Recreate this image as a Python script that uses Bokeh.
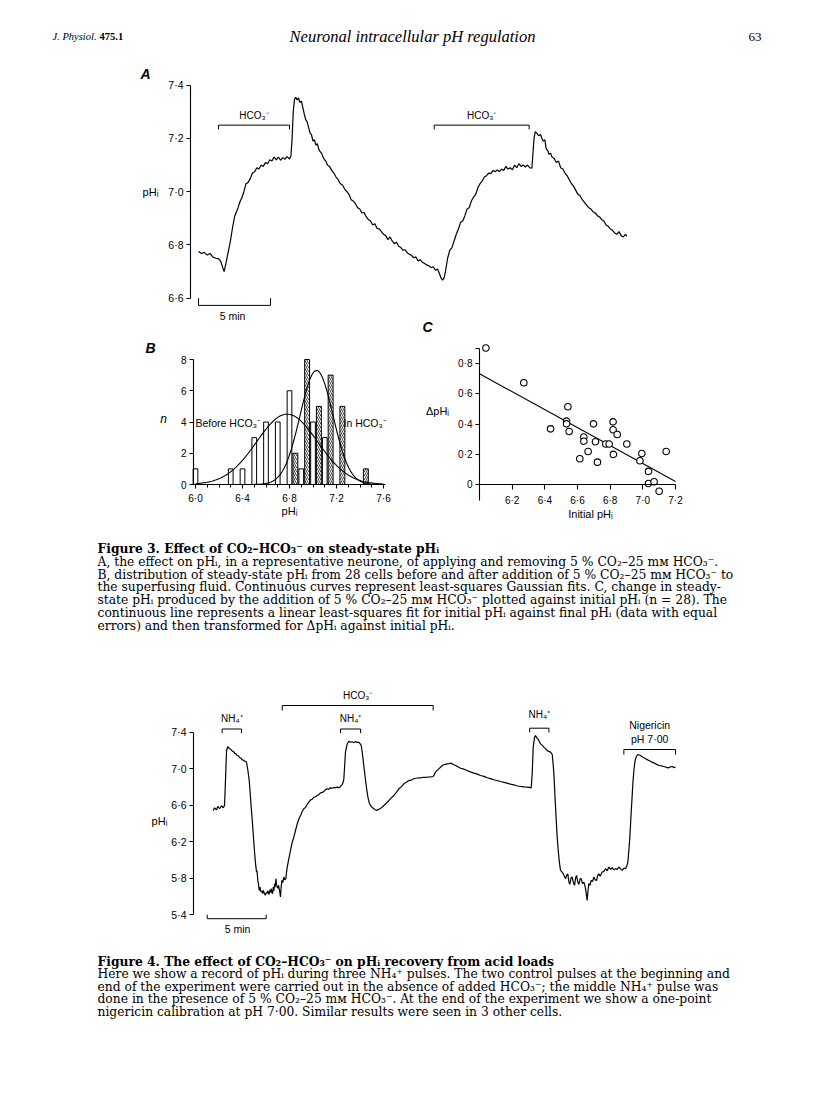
import numpy as np
from bokeh.plotting import figure
from bokeh.models import Label, LinearAxis, FixedTicker, Range1d, Grid
from bokeh.embed import file_html
from bokeh.resources import INLINE

# ---------------- DATA ----------------
# Fig 3A: pHi trace (time in min, pHi)
a_t = [0, 0.2, 0.4, 0.6, 0.8, 1.0, 1.2, 1.4, 1.55, 1.7, 1.78,
       1.9, 2.05, 2.2, 2.35, 2.5, 2.6, 2.75, 2.9, 3.0, 3.15, 3.3, 3.45, 3.6, 3.75, 3.9, 4.05, 4.2, 4.35, 4.5,
       4.65, 4.8, 4.95, 5.1, 5.25, 5.4, 5.55, 5.7, 5.85, 6.0, 6.15, 6.32,
       6.42, 6.5, 6.58, 6.66, 6.75, 6.85, 6.95, 7.05, 7.15, 7.25, 7.35, 7.45, 7.55, 7.65, 7.75, 7.85, 7.95,
       8.05, 8.15, 8.25, 8.35, 8.45, 8.55, 8.65, 8.75, 8.85, 8.95, 9.1, 9.25, 9.4, 9.55, 9.7, 9.85, 10.0,
       10.15, 10.3, 10.45, 10.6, 10.75, 10.9, 11.05, 11.2, 11.35, 11.5, 11.65, 11.8, 11.95, 12.1, 12.25,
       12.4, 12.55, 12.7, 12.85, 13.0, 13.15, 13.3, 13.45, 13.6, 13.75, 13.9, 14.05, 14.2, 14.35, 14.5,
       14.65, 14.8, 14.95, 15.1, 15.25, 15.4, 15.55, 15.7, 15.85, 16.0, 16.15, 16.3, 16.45, 16.6, 16.75,
       16.85, 16.95, 17.05, 17.15, 17.3, 17.45, 17.6, 17.75, 17.9, 18.05, 18.2, 18.35, 18.5, 18.65, 18.8,
       18.95, 19.1, 19.25, 19.4, 19.55, 19.7, 19.85, 20.0, 20.15, 20.3, 20.45, 20.6, 20.75, 20.9, 21.05,
       21.2, 21.35, 21.5, 21.65, 21.8, 21.95, 22.1, 22.25, 22.4, 22.55, 22.7, 22.85, 23.0, 23.15, 23.22,
       23.3, 23.38, 23.5, 23.62, 23.75, 23.85, 23.95, 24.05, 24.15, 24.25, 24.35, 24.45, 24.55, 24.7,
       24.85, 25.0, 25.15, 25.3, 25.45, 25.6, 25.75, 25.9, 26.05, 26.2, 26.35, 26.5, 26.65, 26.8, 26.95,
       27.1, 27.25, 27.4, 27.55, 27.7, 27.85, 28.0, 28.15, 28.3, 28.45, 28.6, 28.75, 28.9, 29.05, 29.2,
       29.35, 29.5, 29.65, 29.75]
a_ph = [6.775, 6.768, 6.772, 6.762, 6.768, 6.755, 6.750, 6.748, 6.738, 6.712, 6.700,
        6.73, 6.77, 6.81, 6.86, 6.905, 6.92, 6.94, 6.965, 6.975, 7.0, 7.03, 7.035, 7.05, 7.07, 7.075, 7.09,
        7.085, 7.10, 7.095, 7.11, 7.105, 7.12, 7.115, 7.13, 7.12, 7.13, 7.118, 7.128, 7.122, 7.132, 7.123,
        7.135, 7.20, 7.30, 7.345, 7.355, 7.345, 7.352, 7.335, 7.34, 7.315, 7.29, 7.27, 7.262, 7.24, 7.22,
        7.213, 7.19, 7.195, 7.175, 7.18, 7.16, 7.15, 7.145, 7.13, 7.12, 7.115, 7.10, 7.095, 7.08, 7.07,
        7.055, 7.045, 7.03, 7.025, 7.01, 7.0, 6.99, 6.97, 6.965, 6.955, 6.94, 6.935, 6.92, 6.922, 6.905,
        6.895, 6.89, 6.875, 6.88, 6.862, 6.86, 6.85, 6.84, 6.835, 6.82, 6.83, 6.815, 6.805, 6.81, 6.795,
        6.79, 6.78, 6.782, 6.77, 6.765, 6.76, 6.752, 6.755, 6.74, 6.745, 6.735, 6.73, 6.725, 6.722, 6.715,
        6.718, 6.705, 6.71, 6.69, 6.675, 6.668, 6.675, 6.70, 6.75, 6.78, 6.79, 6.815, 6.84, 6.86, 6.885,
        6.89, 6.91, 6.935, 6.94, 6.965, 6.98, 6.99, 7.015, 7.03, 7.04, 7.055, 7.06, 7.07, 7.068, 7.08,
        7.075, 7.082, 7.075, 7.085, 7.08, 7.095, 7.085, 7.09, 7.082, 7.10, 7.09, 7.105, 7.095, 7.10, 7.093,
        7.10, 7.09, 7.088, 7.14, 7.20, 7.225, 7.22, 7.21, 7.215, 7.20, 7.19, 7.195, 7.16, 7.155, 7.14,
        7.145, 7.13, 7.125, 7.11, 7.115, 7.09, 7.085, 7.07, 7.06, 7.045, 7.03, 7.02, 7.005, 6.99, 6.985,
        6.97, 6.96, 6.95, 6.94, 6.935, 6.925, 6.92, 6.91, 6.905, 6.895, 6.89, 6.875, 6.87, 6.86, 6.855,
        6.845, 6.84, 6.85, 6.835, 6.83, 6.84, 6.833]
a_hco3_on = [1.39, 16.37]
a_hco3_off = [6.32, 22.96]
a_yticks = [6.6, 6.8, 7.0, 7.2, 7.4]

# Fig 3B: histogram of steady-state pHi (n = 28 each)
b_before_x = [6.0, 6.3, 6.4, 6.5, 6.6, 6.7, 6.8, 6.9, 7.0, 7.1]
b_before_n = [1, 1, 1, 3, 4, 4, 6, 1, 4, 3]
b_in_x = [6.85, 6.95, 7.05, 7.15, 7.25, 7.45]
b_in_n = [2, 8, 5, 7, 5, 1]
# Gaussian fit parameters (mean, s.d., amplitude)
b_fit_before = (6.78, 0.26, 4.5)
b_fit_in = (7.03, 0.14, 7.3)
b_xticks = [6.0, 6.4, 6.8, 7.2, 7.6]
b_yticks = [0, 2, 4, 6, 8]

# Fig 3C: change in pHi vs initial pHi
c_init = [6.039, 6.271, 6.435, 6.533, 6.533, 6.541, 6.549, 6.614, 6.639, 6.639, 6.665, 6.698, 6.710,
          6.722, 6.773, 6.794, 6.818, 6.818, 6.820, 6.843, 6.902, 6.982, 6.994, 7.035, 7.035, 7.069,
          7.100, 7.143]
c_dph = [0.90, 0.671, 0.368, 0.419, 0.401, 0.513, 0.351, 0.171, 0.314, 0.287, 0.219, 0.401, 0.283,
         0.149, 0.268, 0.268, 0.414, 0.362, 0.200, 0.331, 0.268, 0.158, 0.206, 0.088, 0.009, 0.020,
         -0.042, 0.219]
c_fit_x = [6.0, 7.2]
c_fit_y = [0.73, 0.022]
c_xticks = [6.2, 6.4, 6.6, 6.8, 7.0, 7.2]
c_yticks = [0, 0.2, 0.4, 0.6, 0.8]

# Fig 4: pHi trace (time in min, pHi)
f4_t = [0.51, 0.62, 0.72, 0.79, 0.90, 1.0, 1.07, 1.21, 1.36, 1.47, 1.55, 1.64, 1.75, 1.85, 1.92, 2.02,
        2.12, 2.22, 2.32, 2.42, 2.54, 2.65, 2.77, 2.87, 2.97, 3.06, 3.16, 3.25, 3.33, 3.45, 3.56, 3.65,
        3.73, 3.82, 3.90, 3.98, 4.07, 4.12, 4.18, 4.22, 4.29, 4.35, 4.41, 4.48, 4.52, 4.58, 4.65, 4.7,
        4.75, 4.82, 4.92, 5.0, 5.08, 5.15, 5.2, 5.25, 5.32, 5.38, 5.42, 5.48, 5.54, 5.6, 5.65, 5.71, 5.76,
        5.82, 5.88, 5.93, 6.0, 6.05, 6.10, 6.16, 6.21, 6.27, 6.33, 6.40, 6.50, 6.58, 6.67, 6.72, 6.78,
        6.9, 7.06, 7.2, 7.34, 7.5, 7.63, 7.78, 7.91, 8.05, 8.19, 8.33, 8.47, 8.6, 8.76, 8.9, 9.04, 9.18,
        9.32, 9.46, 9.60, 9.75, 9.89, 10.03, 10.17, 10.31, 10.45, 10.6, 10.73, 10.88, 11.02, 11.16,
        11.30, 11.44, 11.52, 11.58, 11.64, 11.72, 11.86, 12.01, 12.15, 12.29, 12.43, 12.57, 12.71, 12.85,
        12.95, 13.05, 13.14, 13.22, 13.32, 13.42, 13.52, 13.62, 13.72, 13.84, 13.98, 14.12, 14.24, 14.35,
        14.5, 14.63, 14.8, 14.97, 15.18, 15.40, 15.6, 15.82, 16.03, 16.24, 16.45, 16.67, 16.88, 17.09,
        17.3, 17.51, 17.72, 17.94, 18.08, 18.36, 18.64, 18.9, 19.15, 19.35, 19.63, 19.92, 20.1, 20.34,
        20.5, 20.68, 20.85, 21.05, 21.25, 21.47, 21.75, 22.03, 22.3, 22.60, 22.9, 23.16, 23.45, 23.73,
        24.0, 24.29, 24.55, 24.86, 25.15, 25.42, 25.7, 25.99, 26.3, 26.55, 26.85, 27.12, 27.3, 27.46,
        27.54, 27.63, 27.74, 27.82, 27.92, 28.02, 28.13, 28.25, 28.4, 28.53, 28.67, 28.81, 28.95, 29.10,
        29.24, 29.31, 29.38, 29.45, 29.52, 29.59, 29.66, 29.73, 29.80, 29.87, 29.94, 30.05, 30.17, 30.27,
        30.37, 30.47, 30.56, 30.65, 30.73, 30.83, 30.93, 31.03, 31.13, 31.22, 31.30, 31.40, 31.50, 31.6,
        31.69, 31.8, 31.92, 32.0, 32.06, 32.13, 32.20, 32.27, 32.34, 32.44, 32.54, 32.65, 32.77, 32.88,
        33.0, 33.1, 33.19, 33.3, 33.47, 33.6, 33.76, 33.9, 34.04, 34.18, 34.32, 34.46, 34.60, 34.75,
        34.89, 35.03, 35.17, 35.31, 35.45, 35.55, 35.65, 35.73, 35.82, 35.9, 35.99, 36.08, 36.16, 36.23,
        36.30, 36.4, 36.50, 36.6, 36.72, 36.86, 37.01, 37.2, 37.43, 37.65, 37.85, 38.05, 38.28, 38.5,
        38.70, 38.9, 39.12, 39.25, 39.41, 39.55, 39.69]
f4_ph = [6.542, 6.571, 6.555, 6.549, 6.585, 6.57, 6.563, 6.593, 6.571, 6.596, 6.87, 7.199, 7.243, 7.225,
         7.217, 7.21, 7.192, 7.19, 7.17, 7.165, 7.144, 7.14, 7.119, 7.115, 7.097, 7.095, 7.082, 7.08,
         7.071, 6.98, 6.87, 6.72, 6.578, 6.43, 6.286, 6.14, 5.994, 5.93, 5.866, 5.88, 5.774, 5.73, 5.665,
         5.7, 5.66, 5.647, 5.66, 5.63, 5.665, 5.64, 5.61, 5.64, 5.636, 5.66, 5.62, 5.628, 5.67, 5.64,
         5.683, 5.65, 5.628, 5.7, 5.66, 5.738, 5.70, 5.793, 5.73, 5.701, 5.69, 5.72, 5.683, 5.64, 5.592,
         5.70, 5.774, 5.75, 5.811, 5.78, 5.793, 5.86, 5.921, 6.0, 6.103, 6.19, 6.249, 6.33, 6.395, 6.45,
         6.487, 6.53, 6.56, 6.575, 6.607, 6.63, 6.658, 6.665, 6.688, 6.69, 6.706, 6.715, 6.735, 6.74,
         6.750, 6.77, 6.779, 6.775, 6.79, 6.785, 6.794, 6.79, 6.797, 6.79, 6.805, 6.826, 6.85, 6.889,
         7.016, 7.181, 7.272, 7.301, 7.29, 7.295, 7.285, 7.298, 7.288, 7.29, 7.275, 7.254, 7.18, 7.09,
         6.98, 6.87, 6.77, 6.688, 6.63, 6.596, 6.575, 6.56, 6.55, 6.542, 6.55, 6.56, 6.575, 6.596, 6.62,
         6.651, 6.68, 6.706, 6.74, 6.779, 6.80, 6.834, 6.85, 6.87, 6.875, 6.889, 6.895, 6.9, 6.9, 6.905,
         6.907, 6.91, 6.914, 6.962, 6.998, 7.035, 7.045, 7.053, 7.055, 7.060, 7.045, 7.035, 7.02, 7.005,
         6.995, 6.98, 6.965, 6.951, 6.94, 6.925, 6.915, 6.9, 6.89, 6.878, 6.87, 6.859, 6.85, 6.841, 6.83,
         6.823, 6.81, 6.805, 6.80, 6.797, 6.795, 6.79, 6.943, 7.236, 7.345, 7.363, 7.34, 7.327, 7.3, 7.272,
         7.255, 7.236, 7.22, 7.199, 7.19, 7.181, 7.155, 7.06, 6.943, 6.76, 6.578, 6.41, 6.249, 6.13, 6.03,
         5.95, 5.884, 5.87, 5.847, 5.82, 5.793, 5.83, 5.847, 5.76, 5.730, 5.80, 5.811, 5.75, 5.72, 5.80,
         5.829, 5.76, 5.730, 5.79, 5.793, 5.74, 5.756, 5.72, 5.683, 5.62, 5.555, 5.66, 5.738, 5.72, 5.774,
         5.76, 5.811, 5.78, 5.774, 5.83, 5.847, 5.82, 5.866, 5.87, 5.902, 5.88, 5.921, 5.895, 5.913, 5.89,
         5.902, 5.895, 5.921, 5.90, 5.884, 5.91, 5.902, 5.93, 5.975, 6.1, 6.249, 6.45, 6.651, 6.85, 6.98,
         7.06, 7.108, 7.14, 7.155, 7.15, 7.144, 7.13, 7.119, 7.105, 7.090, 7.075, 7.064, 7.05, 7.035,
         7.03, 7.024, 7.015, 7.009, 7.02, 7.024, 7.012, 7.016]
f4_nh4_on = [1.27, 11.30, 27.33]
f4_nh4_off = [2.91, 13.00, 28.96]
f4_hco3 = (6.36, 19.15)
f4_nig = (35.31, 39.69)
f4_yticks = [5.4, 5.8, 6.2, 6.6, 7.0, 7.4]

cap3_title = "Figure 3. Effect of CO\u2082\u2013HCO\u2083\u207b on steady-state pH\u1d62"
cap3_lines = [
    "A, the effect on pH\u1d62, in a representative neurone, of applying and removing 5 % CO\u2082\u201325 m\u1d0d HCO\u2083\u207b.",
    "B, distribution of steady-state pH\u1d62 from 28 cells before and after addition of 5 % CO\u2082\u201325 m\u1d0d HCO\u2083\u207b to",
    "the superfusing fluid. Continuous curves represent least-squares Gaussian fits. C, change in steady-",
    "state pH\u1d62 produced by the addition of 5 % CO\u2082\u201325 m\u1d0d HCO\u2083\u207b plotted against initial pH\u1d62 (n = 28). The",
    "continuous line represents a linear least-squares fit for initial pH\u1d62 against final pH\u1d62 (data with equal",
    "errors) and then transformed for \u0394pH\u1d62 against initial pH\u1d62.",
]
cap4_title = "Figure 4. The effect of CO\u2082\u2013HCO\u2083\u207b on pH\u1d62 recovery from acid loads"
cap4_lines = [
    "Here we show a record of pH\u1d62 during three NH\u2084\u207a pulses. The two control pulses at the beginning and",
    "end of the experiment were carried out in the absence of added HCO\u2083\u207b; the middle NH\u2084\u207a pulse was",
    "done in the presence of 5 % CO\u2082\u201325 m\u1d0d HCO\u2083\u207b. At the end of the experiment we show a one-point",
    "nigericin calibration at pH 7\u00b700. Similar results were seen in 3 other cells.",
]

SANS = "Liberation Sans"
SERIF = "DejaVu Serif"
HEAD = "Liberation Serif"
CAP = "12.3px"
W, H = 800, 1090


def dot(v, nd=1):
    return f"{v:.{nd}f}".replace(".", "\u00b7")


def page_range(p0, d0, p1, d1, P0, P1):
    """Linear scale that puts value d0 at page pixel p0 and d1 at p1, extended to P0..P1."""
    k = (d1 - d0) / (p1 - p0)
    return d0 + (P0 - p0) * k, d0 + (P1 - p0) * k


# one page-sized canvas; each panel gets its own scales
p = figure(width=W, height=H, x_range=Range1d(0, W), y_range=Range1d(H, 0),
           output_backend="svg", toolbar_location=None,
           x_axis_location=None, y_axis_location=None, min_border=0,
           min_border_left=0, min_border_right=0, min_border_top=0, min_border_bottom=0)
p.outline_line_color = None
p.background_fill_color = "white"
p.border_fill_color = "white"
p.grid.visible = False
for r in list(p.center):
    if isinstance(r, Grid):
        r.visible = False


def add_scales(name, xcal, ycal):
    x0, x1 = page_range(*xcal, 0, W)
    yb, yt = page_range(*ycal, H, 0)
    p.extra_x_ranges[name + "x"] = Range1d(x0, x1)
    p.extra_y_ranges[name + "y"] = Range1d(yb, yt)
    return dict(x_range_name=name + "x", y_range_name=name + "y")


def style_axis(ax, ticks, labels, bounds=None, size="10.5px", tick_out=4, standoff=3, minor=None):
    ax.ticker = FixedTicker(ticks=ticks, minor_ticks=minor or [])
    ax.major_label_overrides = {t: l for t, l in zip(ticks, labels)}
    if bounds is not None:
        ax.bounds = bounds
    ax.major_tick_out = tick_out
    ax.major_tick_in = 0
    ax.minor_tick_out = 3 if minor else 0
    ax.minor_tick_in = 0
    ax.axis_line_width = 1.1
    ax.major_tick_line_width = 1.1
    ax.minor_tick_line_width = 1.0
    ax.major_label_text_font = SANS
    ax.major_label_text_font_size = size
    ax.major_label_text_color = "black"
    ax.major_label_standoff = standoff


def lab(px, py, text, size="10.5px", font=SANS, style="normal", align="center"):
    p.add_layout(Label(x=px, y=py, text=text, text_font=font, text_font_size=size,
                       text_font_style=style, text_align=align, text_baseline="middle",
                       text_color="black"))


def bracket(rn, x0, x1, ytop, ybot, lw=1.0):
    p.segment(x0=[x0, x0, x1], y0=[ytop, ytop, ytop], x1=[x1, x0, x1], y1=[ytop, ybot, ybot],
              line_color="black", line_width=lw, **rn)


# ---------------- page header ----------------
lab(52, 36, "J. Physiol.", size="10.5px", font=HEAD, style="italic", align="left")
lab(99, 36, "475.1", size="10.5px", font=HEAD, style="bold", align="left")
lab(412, 36, "Neuronal intracellular pH regulation", size="16.5px", font=HEAD, style="italic")
lab(761, 36, "63", size="13px", font=HEAD, align="right")

# ---------------- Fig 3A ----------------
rA = add_scales("a", (198, 0, 270, 5), (297.7, 6.6, 84.7, 7.4))
axA = LinearAxis(fixed_location=-0.556, **rA)
p.add_layout(axA, "left")
style_axis(axA, a_yticks, [dot(v) for v in a_yticks], bounds=(6.6, 7.4))
p.line(a_t, a_ph, line_color="black", line_width=1.2, **rA)
for on, off in zip(a_hco3_on, a_hco3_off):
    bracket(rA, on, off, 7.250, 7.234)
    lab(198 + 0.5 * (on + off) * 14.4, 115, "HCO\u2083\u207b", size="10px")
bracket(rA, 0, 5, 6.573, 6.600)
lab(232, 315, "5 min", size="10.5px")
lab(145, 73, "A", size="14px", style="bold italic")
lab(150, 191, "pH\u1d62", size="11px")

# ---------------- Fig 3B ----------------
rB = add_scales("b", (195, 6.0, 336, 7.2), (484, 0, 359, 8))
axBy = LinearAxis(fixed_location=5.983, **rB)
p.add_layout(axBy, "left")
style_axis(axBy, b_yticks, [str(v) for v in b_yticks], bounds=(0, 8), size="10px")
axBx = LinearAxis(fixed_location=0, **rB)
p.add_layout(axBx, "below")
style_axis(axBx, b_xticks, [dot(v) for v in b_xticks], bounds=(5.983, 7.62), size="10px", standoff=4,
           minor=[round(6.0 + 0.1 * k, 1) for k in range(17)])
p.vbar(x=b_before_x, top=b_before_n, width=0.04, fill_color="white", line_color="black", line_width=1.0, **rB)
p.vbar(x=b_in_x, top=b_in_n, width=0.042, fill_color="white", line_color="black", line_width=1.0,
       hatch_pattern="/", hatch_color="black", hatch_scale=4.0, hatch_weight=0.7, **rB)
gx = np.linspace(6.0, 7.6, 200)
for mu, sd, amp in (b_fit_before, b_fit_in):
    p.line(gx, amp * np.exp(-0.5 * ((gx - mu) / sd) ** 2), line_color="black", line_width=1.1, **rB)
lab(150, 347, "B", size="14px", style="bold italic")
lab(163, 418, "n", size="12px", style="italic")
lab(195, 422, "Before HCO\u2083\u207b", size="10.5px", align="left")
lab(343, 422, "In HCO\u2083\u207b", size="10.5px", align="left")
lab(289, 510, "pH\u1d62", size="11px")

# ---------------- Fig 3C ----------------
rC = add_scales("c", (511.7, 6.2, 675, 7.2), (484.3, 0, 362.7, 0.8))
axCy = LinearAxis(fixed_location=6.0, **rC)
p.add_layout(axCy, "left")
style_axis(axCy, c_yticks + [0.9], ["0"] + [dot(v) for v in c_yticks[1:]] + [""],
           bounds=(-0.1, 0.9), size="10px")
axCx = LinearAxis(fixed_location=0, **rC)
p.add_layout(axCx, "below")
style_axis(axCx, c_xticks, [dot(v) for v in c_xticks], bounds=(6.0, 7.2), size="10px", tick_out=5, standoff=5)
p.line(c_fit_x, c_fit_y, line_color="black", line_width=1.1, **rC)
p.scatter(c_init, c_dph, size=6.5, marker="circle", fill_color="white", line_color="black",
          line_width=1.1, **rC)
lab(427, 326, "C", size="14px", style="bold italic")
lab(437, 410, "\u0394pH\u1d62", size="11px")
lab(590, 513, "Initial pH\u1d62", size="11px")

# ---------------- Caption 3 ----------------
lab(97, 548, cap3_title, size=CAP, font=SERIF, style="bold", align="left")
for i, s in enumerate(cap3_lines):
    lab(97, 561.5 + 12.7 * i, s, size=CAP, font=SERIF, align="left")

# ---------------- Fig 4 ----------------
rF = add_scales("f", (206.7, 0, 265.7, 5), (914, 5.4, 731.7, 7.4))
axF = LinearAxis(fixed_location=-1.161, **rF)
p.add_layout(axF, "left")
style_axis(axF, f4_yticks, [dot(v) for v in f4_yticks], bounds=(5.4, 7.4))
p.line(f4_t, f4_ph, line_color="black", line_width=1.2, **rF)
for i, (on, off) in enumerate(zip(f4_nh4_on, f4_nh4_off)):
    top = 7.444 if i == 2 else 7.435
    bracket(rF, on, off, top, top - 0.046)
    lab(206.7 + 0.5 * (on + off) * 11.8, 714 if i == 2 else 718, "NH\u2084\u207a", size="10px")
bracket(rF, f4_hco3[0], f4_hco3[1], 7.693, 7.638)
lab(206.7 + 0.5 * (f4_hco3[0] + f4_hco3[1]) * 11.8, 695, "HCO\u2083\u207b", size="10px")
bracket(rF, f4_nig[0], f4_nig[1], 7.210, 7.155)
nx = 206.7 + 0.5 * (f4_nig[0] + f4_nig[1]) * 11.8
lab(nx, 724, "Nigericin", size="10.5px")
lab(nx, 738, "pH 7\u00b700", size="10.5px")
bracket(rF, 0, 5, 5.354, 5.398)
lab(237, 928, "5 min", size="10.5px")
lab(159, 820, "pH\u1d62", size="11px")

# ---------------- Caption 4 ----------------
lab(97, 961, cap4_title, size=CAP, font=SERIF, style="bold", align="left")
for i, s in enumerate(cap4_lines):
    lab(97, 973.5 + 12.7 * i, s, size=CAP, font=SERIF, align="left")

open("out.html", "w").write(file_html(p, INLINE))
